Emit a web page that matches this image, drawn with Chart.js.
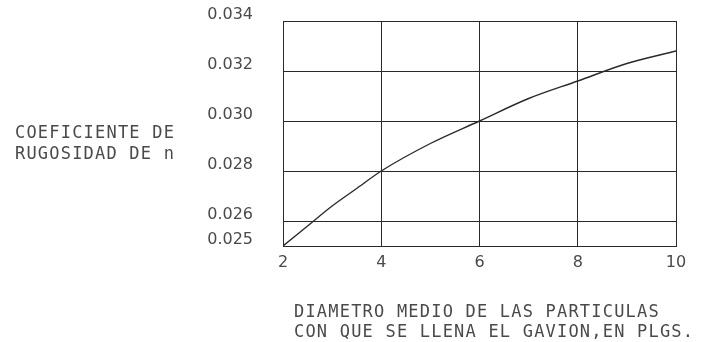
<!DOCTYPE html>
<html>
<head>
<meta charset="utf-8">
<script src="https://cdn.jsdelivr.net/npm/chart.js@4/dist/chart.umd.min.js"></script>
<style>
  html, body { margin: 0; padding: 0; background: #ffffff; }
  #wrap { width: 702px; height: 342px; position: relative; }
</style>
</head>
<body>
<div id="wrap"><canvas id="c" width="702" height="342"></canvas></div>
<script>
// ---- data ----
const diameters = [2, 2.5, 3, 3.5, 4, 5, 6, 7, 8, 9, 10];
const roughnessN = [0.0250, 0.0258, 0.0266, 0.0273, 0.0280, 0.0291, 0.0300, 0.0309, 0.0316, 0.0323, 0.0328];
const yTickValues = [0.025, 0.026, 0.028, 0.030, 0.032, 0.034];
const yTickLabels = ['0.025', '0.026', '0.028', '0.030', '0.032', '0.034'];
const xTickValues = [2, 4, 6, 8, 10];
const yTitleLines = ['COEFICIENTE DE', 'RUGOSIDAD DE n'];
const xTitleLines = ['DIAMETRO MEDIO DE LAS PARTICULAS', 'CON QUE SE LLENA EL GAVION,EN PLGS.'];

const TEXT_COLOR = '#4a4a4a';
const LINE_COLOR = '#2a2a2a';

const titlesPlugin = {
  id: 'titles',
  afterDraw(chart) {
    const ctx = chart.ctx;
    ctx.save();
    ctx.fillStyle = TEXT_COLOR;
    ctx.font = '17px "DejaVu Sans Mono"';
    ctx.letterSpacing = '1.2px';
    ctx.textAlign = 'left';
    ctx.textBaseline = 'middle';
    ctx.fillText(yTitleLines[0], 15, 134);
    ctx.fillText(yTitleLines[1], 15, 155);
    ctx.fillText(xTitleLines[0], 294, 313);
    ctx.fillText(xTitleLines[1], 294, 333);
    ctx.restore();
  }
};

new Chart(document.getElementById('c'), {
  type: 'line',
  data: {
    datasets: [{
      data: diameters.map((d, i) => ({ x: d, y: roughnessN[i] })),
      borderColor: LINE_COLOR,
      borderWidth: 1.4,
      pointRadius: 0,
      fill: false,
      cubicInterpolationMode: 'monotone'
    }]
  },
  options: {
    responsive: false,
    animation: false,
    layout: { padding: { top: 21, right: 26, left: 0, bottom: 0 } },
    plugins: { legend: { display: false }, tooltip: { enabled: false } },
    scales: {
      x: {
        type: 'linear',
        min: 2, max: 10,
        afterBuildTicks(scale) { scale.ticks = xTickValues.map(v => ({ value: v })); },
        afterFit(scale) { scale.height = 96; },
        grid: { color: LINE_COLOR, lineWidth: 1, drawTicks: false },
        border: { color: LINE_COLOR, width: 1 },
        ticks: {
          padding: 7,
          color: TEXT_COLOR,
          font: { family: 'DejaVu Sans', size: 16 },
          maxRotation: 0,
          callback: v => String(v)
        }
      },
      y: {
        type: 'linear',
        min: 0.025, max: 0.034,
        afterBuildTicks(scale) { scale.ticks = yTickValues.map(v => ({ value: v })); },
        afterFit(scale) { scale.width = 283; scale.paddingTop = 0; scale.paddingBottom = 0; },
        grid: { color: LINE_COLOR, lineWidth: 1, drawTicks: false },
        border: { color: LINE_COLOR, width: 1 },
        ticks: {
          padding: 30,
          labelOffset: -6,
          color: TEXT_COLOR,
          font: { family: 'DejaVu Sans', size: 16 },
          callback: (v) => {
            const i = yTickValues.findIndex(t => Math.abs(t - v) < 1e-9);
            return i >= 0 ? yTickLabels[i] : '';
          }
        }
      }
    }
  },
  plugins: [titlesPlugin]
});
</script>
</body>
</html>
